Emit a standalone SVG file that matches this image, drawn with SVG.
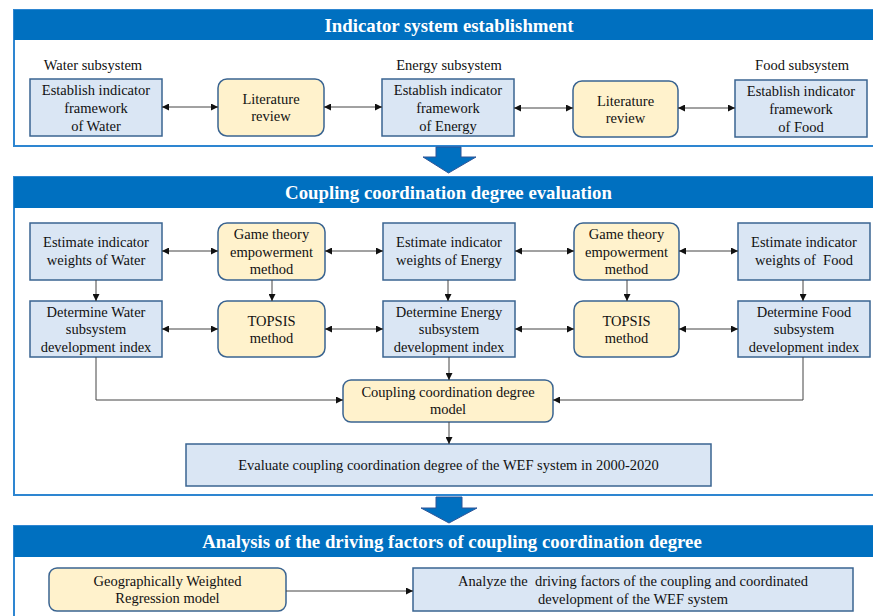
<svg xmlns="http://www.w3.org/2000/svg" width="873" height="616" viewBox="0 0 873 616">
<defs>
<marker id="ah" viewBox="0 0 10 10" refX="10" refY="5" markerWidth="7" markerHeight="7" markerUnits="userSpaceOnUse" orient="auto-start-reverse">
<path d="M0,0 L10,5 L0,10 z" fill="#111"/>
</marker>
<style>
.sec{fill:#fff;stroke:#2E86D1;stroke-width:2}
.hdr{fill:#0070C0}
.ht{font-family:"Liberation Serif",serif;font-weight:bold;font-size:18.8px;fill:#fff;text-anchor:middle}
.bx{fill:#DAE6F4;stroke:#3A6491;stroke-width:1.5}
.yb{fill:#FFF2CC;stroke:#3A6491;stroke-width:1.5}
.t{font-family:"Liberation Serif",serif;font-size:14.5px;fill:#111;text-anchor:middle}
.c{fill:none;stroke:#444;stroke-width:1}
.blk{fill:#0070C0;stroke:#2F5597;stroke-width:1}
</style>
</defs>
<rect width="873" height="616" fill="#fff"/>

<!-- Section 1 -->
<g id="section1">
<rect class="sec" x="14" y="10" width="872" height="136"/>
<rect class="hdr" x="14" y="10" width="872" height="30"/>
<text class="ht" x="449" y="32">Indicator system establishment</text>
<text class="t" x="93" y="70">Water subsystem</text>
<text class="t" x="449" y="70">Energy subsystem</text>
<text class="t" x="802" y="70">Food subsystem</text>
</g>
<g id="n_water_fw">
<rect class="bx" x="30" y="79" width="132" height="57"/>
<text class="t" x="96" y="95">Establish indicator</text>
<text class="t" x="96" y="113">framework</text>
<text class="t" x="96" y="130.5">of Water</text>
</g>
<g id="n_lit1">
<rect class="yb" x="218" y="79" width="106" height="57" rx="9"/>
<text class="t" x="271" y="104">Literature</text>
<text class="t" x="271" y="121">review</text>
</g>
<g id="n_energy_fw">
<rect class="bx" x="382" y="79" width="132" height="57"/>
<text class="t" x="448" y="95">Establish indicator</text>
<text class="t" x="448" y="113">framework</text>
<text class="t" x="448" y="130.5">of Energy</text>
</g>
<g id="n_lit2">
<rect class="yb" x="573" y="81" width="105" height="56" rx="9"/>
<text class="t" x="625.5" y="106">Literature</text>
<text class="t" x="625.5" y="123">review</text>
</g>
<g id="n_food_fw">
<rect class="bx" x="735" y="80" width="132" height="57"/>
<text class="t" x="801" y="96">Establish indicator</text>
<text class="t" x="801" y="114">framework</text>
<text class="t" x="801" y="131.5">of Food</text>
</g>

<!-- Block arrow 1 -->
<g id="arrow1">
<path class="blk" d="M436,147 L461,147 L461,157 L476,157 L448.5,173 L423,157 L436,157 z"/>
</g>

<!-- Section 2 -->
<g id="section2">
<rect class="sec" x="14" y="177" width="872" height="318"/>
<rect class="hdr" x="14" y="177" width="872" height="31"/>
<text class="ht" x="448.5" y="199">Coupling coordination degree evaluation</text>
</g>
<g id="n_water_w">
<rect class="bx" x="30" y="223" width="132" height="57"/>
<text class="t" x="96" y="247">Estimate indicator</text>
<text class="t" x="96" y="265">weights of Water</text>
</g>
<g id="n_gt1">
<rect class="yb" x="218" y="223" width="107" height="57" rx="9"/>
<text class="t" x="271.5" y="239">Game theory</text>
<text class="t" x="271.5" y="257">empowerment</text>
<text class="t" x="271.5" y="274">method</text>
</g>
<g id="n_energy_w">
<rect class="bx" x="383" y="223" width="132" height="57"/>
<text class="t" x="449" y="247">Estimate indicator</text>
<text class="t" x="449" y="265">weights of Energy</text>
</g>
<g id="n_gt2">
<rect class="yb" x="574" y="223" width="105" height="57" rx="9"/>
<text class="t" x="626.5" y="239">Game theory</text>
<text class="t" x="626.5" y="257">empowerment</text>
<text class="t" x="626.5" y="274">method</text>
</g>
<g id="n_food_w">
<rect class="bx" x="738" y="223" width="132" height="57"/>
<text class="t" x="804" y="247">Estimate indicator</text>
<text class="t" x="804" y="265" xml:space="preserve">weights of  Food</text>
</g>
<g id="n_water_d">
<rect class="bx" x="30" y="301" width="132" height="56"/>
<text class="t" x="96" y="317">Determine Water</text>
<text class="t" x="96" y="334">subsystem</text>
<text class="t" x="96" y="352">development index</text>
</g>
<g id="n_topsis1">
<rect class="yb" x="218" y="301" width="107" height="56" rx="9"/>
<text class="t" x="271.5" y="326">TOPSIS</text>
<text class="t" x="271.5" y="343">method</text>
</g>
<g id="n_energy_d">
<rect class="bx" x="383" y="301" width="132" height="56"/>
<text class="t" x="449" y="317">Determine Energy</text>
<text class="t" x="449" y="334">subsystem</text>
<text class="t" x="449" y="352">development index</text>
</g>
<g id="n_topsis2">
<rect class="yb" x="574" y="301" width="105" height="56" rx="9"/>
<text class="t" x="626.5" y="326">TOPSIS</text>
<text class="t" x="626.5" y="343">method</text>
</g>
<g id="n_food_d">
<rect class="bx" x="738" y="301" width="132" height="56"/>
<text class="t" x="804" y="317">Determine Food</text>
<text class="t" x="804" y="334">subsystem</text>
<text class="t" x="804" y="352">development index</text>
</g>
<g id="n_ccd">
<rect class="yb" x="343" y="380" width="210" height="42" rx="8"/>
<text class="t" x="448" y="397">Coupling coordination degree</text>
<text class="t" x="448" y="414">model</text>
</g>
<g id="n_eval">
<rect class="bx" x="186" y="444" width="525" height="42"/>
<text class="t" x="448.5" y="470">Evaluate coupling coordination degree of the WEF system in 2000-2020</text>
</g>

<!-- Block arrow 2 -->
<g id="arrow2">
<path class="blk" d="M436,497 L462,497 L462,508 L477,508 L449,523 L421,508 L436,508 z"/>
</g>

<!-- Section 3 -->
<g id="section3">
<rect class="sec" x="14" y="526" width="872" height="100"/>
<rect class="hdr" x="14" y="526" width="872" height="31"/>
<text class="ht" x="452" y="548">Analysis of the driving factors of coupling coordination degree</text>
</g>
<g id="n_gwr">
<rect class="yb" x="49" y="568" width="237" height="43" rx="8"/>
<text class="t" x="167.5" y="586">Geographically Weighted</text>
<text class="t" x="167.5" y="603">Regression model</text>
</g>
<g id="n_analyze">
<rect class="bx" x="413" y="568" width="440" height="43"/>
<text class="t" x="633" y="586" xml:space="preserve">Analyze the  driving factors of the coupling and coordinated</text>
<text class="t" x="633" y="604">development of the WEF system</text>
</g>

<!-- Connectors -->
<g id="connectors">
<line class="c" x1="162" y1="107" x2="218" y2="107" marker-start="url(#ah)" marker-end="url(#ah)"/>
<line class="c" x1="324" y1="107" x2="382" y2="107" marker-start="url(#ah)" marker-end="url(#ah)"/>
<line class="c" x1="514" y1="108" x2="573" y2="108" marker-start="url(#ah)" marker-end="url(#ah)"/>
<line class="c" x1="678" y1="108" x2="735" y2="108" marker-start="url(#ah)" marker-end="url(#ah)"/>

<line class="c" x1="162" y1="251" x2="218" y2="251" marker-start="url(#ah)" marker-end="url(#ah)"/>
<line class="c" x1="325" y1="251" x2="383" y2="251" marker-start="url(#ah)" marker-end="url(#ah)"/>
<line class="c" x1="515" y1="251" x2="574" y2="251" marker-start="url(#ah)" marker-end="url(#ah)"/>
<line class="c" x1="679" y1="251" x2="738" y2="251" marker-start="url(#ah)" marker-end="url(#ah)"/>

<line class="c" x1="162" y1="329" x2="218" y2="329" marker-start="url(#ah)" marker-end="url(#ah)"/>
<line class="c" x1="325" y1="329" x2="383" y2="329" marker-start="url(#ah)" marker-end="url(#ah)"/>
<line class="c" x1="515" y1="329" x2="574" y2="329" marker-start="url(#ah)" marker-end="url(#ah)"/>
<line class="c" x1="679" y1="329" x2="738" y2="329" marker-start="url(#ah)" marker-end="url(#ah)"/>

<line class="c" x1="96" y1="280" x2="96" y2="301" marker-end="url(#ah)"/>
<line class="c" x1="272" y1="280" x2="272" y2="301" marker-end="url(#ah)"/>
<line class="c" x1="448" y1="280" x2="448" y2="301" marker-end="url(#ah)"/>
<line class="c" x1="627" y1="280" x2="627" y2="301" marker-end="url(#ah)"/>
<line class="c" x1="803" y1="280" x2="803" y2="301" marker-end="url(#ah)"/>

<line class="c" x1="449" y1="357" x2="449" y2="380" marker-end="url(#ah)"/>
<polyline class="c" points="96,357 96,400 343,400" marker-end="url(#ah)"/>
<polyline class="c" points="803,357 803,400 553,400" marker-end="url(#ah)"/>
<line class="c" x1="449" y1="422" x2="449" y2="444" marker-end="url(#ah)"/>

<line class="c" x1="286" y1="591" x2="413" y2="591" marker-end="url(#ah)"/>
</g>
</svg>
